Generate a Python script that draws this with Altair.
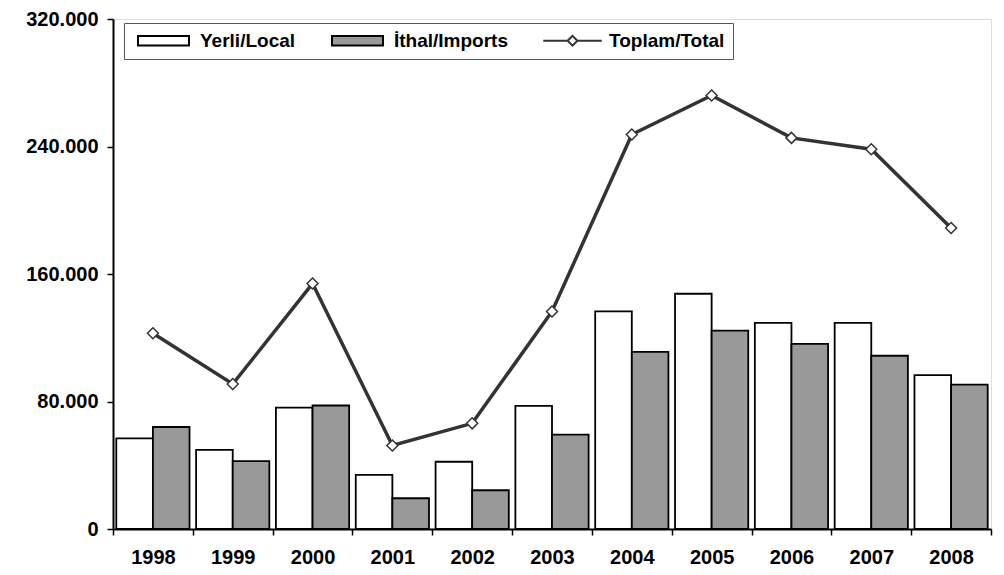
import altair as alt
import pandas as pd

years = ["1998", "1999", "2000", "2001", "2002", "2003", "2004", "2005", "2006", "2007", "2008"]
local = [56900, 49700, 76200, 33900, 42200, 77300, 136500, 147600, 129300, 129300, 96600]
imports = [64000, 42600, 77500, 19300, 24300, 59200, 111200, 124500, 116200, 108700, 90600]
total = [122800, 91000, 154000, 52400, 66300, 136500, 247500, 272000, 245400, 238300, 188900]

series_names = ["Yerli/Local", "İthal/Imports", "Toplam/Total"]
y_ticks = [0, 80000, 160000, 240000, 320000]

bars_df = pd.DataFrame(
    [{"year": y, "series": series_names[0], "value": v} for y, v in zip(years, local)]
    + [{"year": y, "series": series_names[1], "value": v} for y, v in zip(years, imports)]
)
total_df = pd.DataFrame({"year": years, "value": total, "series": series_names[2]})

FONT = "Liberation Sans"
DARK = "#333333"

rect_path = "M-3.4,-0.62H3.4V0.62H-3.4Z"
tot_path = "M-3.9,0H-0.65M0.65,0H3.9M-0.65,0L0,-0.65L0.65,0L0,0.65Z"

fill_scale = alt.Scale(domain=series_names, range=["#ffffff", "#999999", "#ffffff"])
shape_scale = alt.Scale(domain=series_names, range=[rect_path, rect_path, tot_path])
stroke_scale = alt.Scale(domain=series_names, range=["#000000", "#000000", DARK])

legend = alt.Legend(
    title=None,
    orient="none",
    legendX=11,
    legendY=4,
    direction="horizontal",
    strokeColor="#555555",
    fillColor="#ffffff",
    padding=8,
    labelFont=FONT,
    labelFontSize=19,
    labelFontWeight="bold",
    labelColor="#000000",
    labelLimit=400,
    symbolSize=225,
    symbolOffset=22,
    labelOffset=27,
    columnPadding=30,
    symbolStrokeColor="#000000",
    symbolStrokeWidth=2,
    symbolOpacity=1,
)

x_enc = alt.X(
    "year:N",
    sort=years,
    scale=alt.Scale(paddingInner=0, paddingOuter=0),
    axis=alt.Axis(
        title=None,
        labelAngle=0,
        tickBand="extent",
        tickSize=6,
        tickColor="#000000",
        tickWidth=1.5,
        domainColor="#000000",
        domainWidth=2,
        labelFont=FONT,
        labelFontSize=20,
        labelFontWeight="bold",
        labelColor="#000000",
        labelPadding=12,
    ),
)

y_scale = alt.Scale(domain=[0, 320000], nice=False, zero=True)
y_axis = alt.Axis(
    title=None,
    values=y_ticks,
    grid=False,
    tickSize=6,
    tickColor="#000000",
    tickWidth=1.5,
    domainColor="#000000",
    domainWidth=2,
    labelFont=FONT,
    labelFontSize=20,
    labelFontWeight="bold",
    labelColor="#000000",
    labelPadding=9,
    labelExpr="datum.value == 0 ? '0' : format(datum.value / 1000, 'd') + '.000'",
)

bars = alt.Chart(bars_df).mark_bar(stroke="#000000", strokeWidth=1.8).encode(
    x=x_enc,
    xOffset=alt.XOffset("series:N", sort=series_names[:2], scale=alt.Scale(paddingOuter=0.09, paddingInner=0)),
    y=alt.Y("value:Q", scale=y_scale, axis=y_axis),
    fill=alt.Fill("series:N", scale=fill_scale, legend=legend),
)

line = alt.Chart(total_df).mark_line(color=DARK, strokeWidth=3.5).encode(
    x=alt.X("year:N", sort=years),
    y=alt.Y("value:Q", scale=y_scale),
)

points = alt.Chart(total_df).mark_point(
    shape="diamond", filled=True, size=121, stroke=DARK, strokeWidth=1.5, opacity=1
).encode(
    x=alt.X("year:N", sort=years),
    y=alt.Y("value:Q", scale=y_scale),
    fill=alt.Fill("series:N", scale=fill_scale, legend=legend),
)

# legend-only layer (no rows survive the filter): gives the legend its symbol shapes and outlines
legend_layer = alt.Chart(total_df).transform_filter("false").mark_point(
    filled=True, strokeWidth=2, opacity=1
).encode(
    x=alt.X("year:N", sort=years),
    y=alt.Y("value:Q", scale=y_scale),
    fill=alt.Fill("series:N", scale=fill_scale, legend=legend),
    shape=alt.Shape("series:N", scale=shape_scale, legend=legend),
    stroke=alt.Stroke("series:N", scale=stroke_scale, legend=legend),
)

chart = (
    alt.layer(bars, line, points, legend_layer)
    .properties(
        width=878,
        height=510,
        autosize=alt.AutoSizeParams(type="none"),
        padding={"left": 105, "top": 11, "right": 5, "bottom": 40},
    )
    .configure_view(stroke="#404040", strokeWidth=2)
    .configure(background="#ffffff")
)

chart.save("out.html", embed_options={"renderer": "svg", "actions": False})
